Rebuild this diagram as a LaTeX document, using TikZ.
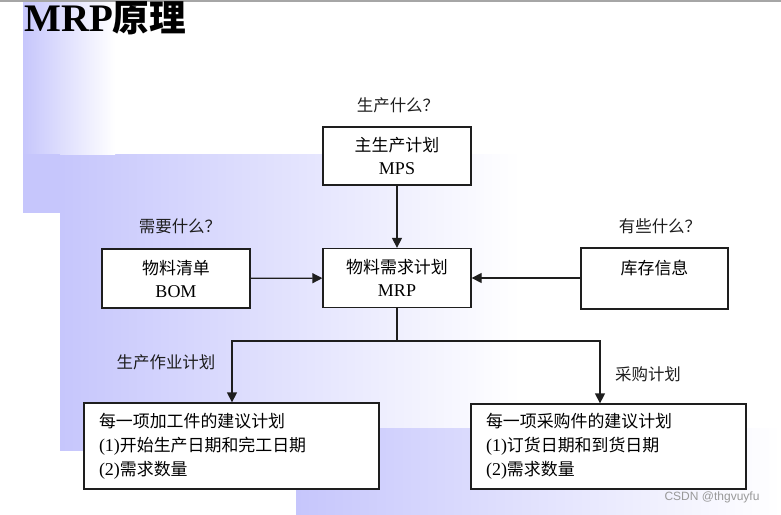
\documentclass[tikz,border=0pt]{standalone}
\usepackage{fontspec}
\setmainfont{Liberation Serif}
\newfontfamily\cjk[Scale=0.94]{Noto Sans CJK SC}
\newfontfamily\wm{Liberation Sans}
\usetikzlibrary{arrows.meta}
\definecolor{lav}{RGB}{198,198,252}
\definecolor{ink}{RGB}{30,30,30}
\tikzset{
  box/.style={draw=ink, line width=1.3pt, fill=white, align=center, inner sep=0pt, font=\fontsize{18}{23}\selectfont},
  bigbox/.style={draw=ink, line width=1.3pt, fill=white, align=left, inner xsep=15pt, inner ysep=0pt, font=\fontsize{18}{24}\selectfont},
  lbl/.style={font=\fontsize{17.5}{20}\selectfont, text=ink, inner sep=0pt},
  arr/.style={draw=ink, line width=1.3pt, -{Triangle[length=10pt,width=10pt]}},
  ln/.style={draw=ink, line width=1.3pt}
}
\begin{document}
\begin{tikzpicture}[x=1pt,y=-1pt]
\useasboundingbox (0,0) rectangle (781,514);
% background shadings
\shade[left color=lav, right color=white] (60,154) rectangle (520,450);
\shade[left color=lav, right color=white] (296,428) rectangle (781,514);
\shade[left color=lav, right color=white] (23,0) rectangle (115,154);
\fill[lav] (23,154) rectangle (60,213);
\draw[gray!70, line width=2pt] (0,1) -- (781,1);
% title
\node[anchor=base west, inner sep=0pt, font=\fontsize{39}{39}\selectfont\bfseries] (title) at (24,31) {MRP{\cjk 原理}};
% boxes
\node[box, minimum width=148pt, minimum height=58pt] (mps) at (397,156) {{\cjk 主生产计划}\\MPS};
\node[box, minimum width=148pt, minimum height=59pt] (mrp) at (397,278) {{\cjk 物料需求计划}\\MRP};
\node[box, minimum width=148pt, minimum height=59pt] (bom) at (176,278.5) {{\cjk 物料清单}\\BOM};
\node[box, minimum width=147pt, minimum height=61pt] (inv) at (654.5,278.5) {{\cjk 库存信息}\\\mbox{}};
\node[bigbox, text width=265pt, minimum height=86pt] (lb) at (231.5,446) {{\cjk 每一项加工件的建议计划}\\(1){\cjk 开始生产日期和完工日期}\\(2){\cjk 需求数量}};
\node[bigbox, text width=245pt, minimum height=85pt] (rb) at (608.5,446.5) {{\cjk 每一项采购件的建议计划}\\(1){\cjk 订货日期和到货日期}\\(2){\cjk 需求数量}};
% labels
\node[lbl] (q1) at (398,105) {\cjk 生产什么？};
\node[lbl] (q2) at (180,226) {\cjk 需要什么？};
\node[lbl] (q3) at (660,226) {\cjk 有些什么？};
\node[lbl] (p1) at (166,362) {\cjk 生产作业计划};
\node[lbl] (p2) at (648,374) {\cjk 采购计划};
\node[inner sep=0pt, text=gray!80, font=\wm\fontsize{12}{14}\selectfont] (wmk) at (712,497) {CSDN @thgvuyfu};
% connectors
\coordinate (l) at (232,341);
\coordinate (r) at (600,341);
\draw[arr] (mps) -- (mrp);
\draw[arr] (bom) -- (mrp);
\draw[arr] (inv.west |- mrp) -- (mrp);
\draw[arr] (mrp.south) |- (l) -- (l |- lb.north);
\draw[arr] (mrp.south) |- (r) -- (r |- rb.north);
\end{tikzpicture}
\end{document}
